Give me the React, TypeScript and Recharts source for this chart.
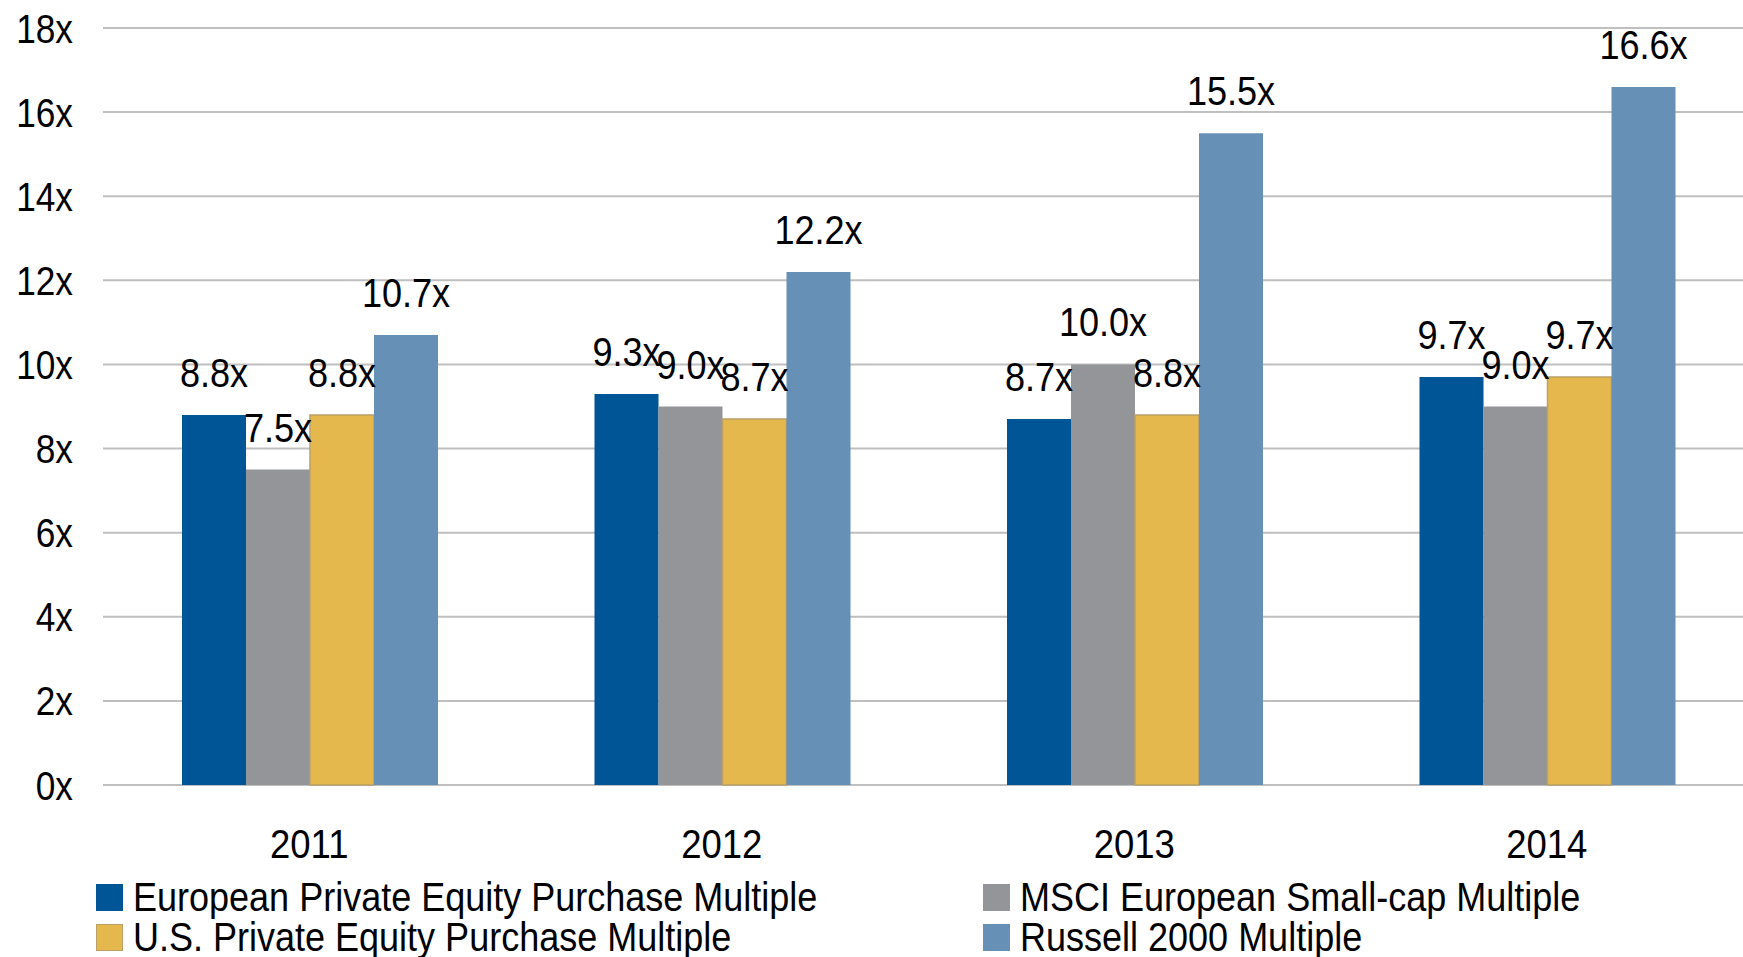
import React from "react";
import {
  BarChart,
  Bar,
  XAxis,
  YAxis,
  CartesianGrid,
  LabelList,
} from "recharts";

// Years on the x axis
const years = ["2011", "2012", "2013", "2014"];

// Multiples per series, one value per year
const europeanPE = [8.8, 9.3, 8.7, 9.7];
const msciSmallCap = [7.5, 9.0, 10.0, 9.0];
const usPE = [8.8, 8.7, 8.8, 9.7];
const russell2000 = [10.7, 12.2, 15.5, 16.6];

const yTicks = [0, 2, 4, 6, 8, 10, 12, 14, 16, 18];

const SERIES = [
  { key: "europeanPE", name: "European Private Equity Purchase Multiple", color: "#005597" },
  { key: "msciSmallCap", name: "MSCI European Small-cap Multiple", color: "#939598" },
  { key: "usPE", name: "U.S. Private Equity Purchase Multiple", color: "#E5B84E", stroke: "#BBA068" },
  { key: "russell2000", name: "Russell 2000 Multiple", color: "#6690B5" },
];

// no narrow font installed, so squeeze Liberation Sans (Arial metrics) horizontally
const FONT = "'Liberation Sans', Arial, sans-serif";

const data = years.map((year, i) => ({
  year,
  europeanPE: europeanPE[i],
  msciSmallCap: msciSmallCap[i],
  usPE: usPE[i],
  russell2000: russell2000[i],
}));

const legendRows = [
  [SERIES[0], SERIES[1]],
  [SERIES[2], SERIES[3]],
];

const NarrowText = ({ x, y, anchor, dy, text, squeeze }: any) => (
  <g transform={`translate(${x},${y}) scale(${squeeze},1)`}>
    <text x={0} y={0} dy={dy} textAnchor={anchor} fontSize={41} fontFamily={FONT} fill="#000">
      {text}
    </text>
  </g>
);

const YTick = ({ x, y, payload }: any) => (
  <NarrowText x={x} y={y} anchor="end" dy="0.355em" squeeze={0.86} text={`${payload.value}x`} />
);

const XTick = ({ x, y, payload }: any) => (
  <NarrowText x={x} y={y} anchor="middle" dy="0.71em" squeeze={0.89} text={payload.value} />
);

const BarLabel = ({ x, y, width, value }: any) => (
  <NarrowText
    x={x + width / 2}
    y={y - 28}
    anchor="middle"
    dy={0}
    squeeze={0.88}
    text={`${Number(value).toFixed(1)}x`}
  />
);

const LegendItem = ({ s }: { s: (typeof SERIES)[number] }) => (
  <div style={{ display: "flex", alignItems: "center", height: 40 }}>
    <div
      style={{
        width: 27,
        height: 27,
        background: s.color,
        boxSizing: "border-box",
        border: s.stroke ? `1.5px solid ${s.stroke}` : "none",
        marginRight: 10,
        flexShrink: 0,
      }}
    />
    <span
      style={{
        display: "inline-block",
        fontSize: 40,
        lineHeight: "40px",
        color: "#000",
        whiteSpace: "nowrap",
        transform: "scaleX(0.9)",
        transformOrigin: "left center",
      }}
    >
      {s.name}
    </span>
  </div>
);

export default function App() {
  return (
    <div
      style={{
        position: "absolute",
        left: 0,
        top: 0,
        width: 1743,
        height: 957,
        overflow: "hidden",
        background: "#fff",
        fontFamily: FONT,
      }}
    >
      <BarChart
        width={1760}
        height={957}
        data={data}
        margin={{ top: 28, right: 7, bottom: 112, left: 0 }}
        barCategoryGap={79}
        barGap={0}
      >
        <CartesianGrid vertical={false} stroke="#BFBFBF" strokeWidth={2} />
        <XAxis
          dataKey="year"
          axisLine={false}
          tickLine={false}
          tickSize={0}
          tickMargin={44}
          height={60}
          tick={<XTick />}
        />
        <YAxis
          domain={[0, 18]}
          ticks={yTicks}
          width={103}
          axisLine={false}
          tickLine={false}
          tickSize={0}
          tickMargin={30}
          tick={<YTick />}
        />
        {SERIES.map((s) => (
          <Bar
            key={s.key}
            dataKey={s.key}
            name={s.name}
            fill={s.color}
            stroke={s.stroke}
            strokeWidth={s.stroke ? 1.5 : 0}
            isAnimationActive={false}
          >
            <LabelList dataKey={s.key} content={<BarLabel />} />
          </Bar>
        ))}
      </BarChart>
      <div style={{ position: "absolute", left: 96, top: 877 }}>
        {legendRows.map((row, r) => (
          <div key={r} style={{ display: "flex" }}>
            <div style={{ width: 887 }}>
              <LegendItem s={row[0]} />
            </div>
            <LegendItem s={row[1]} />
          </div>
        ))}
      </div>
    </div>
  );
}
